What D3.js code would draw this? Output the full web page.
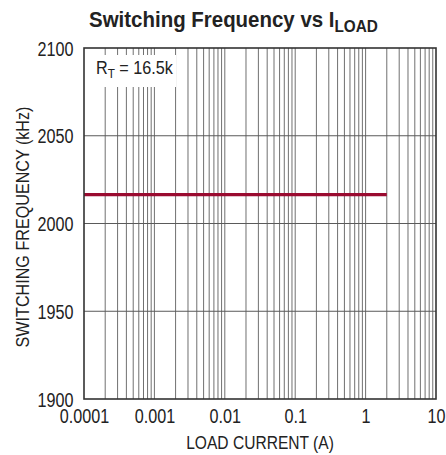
<!DOCTYPE html>
<html><head><meta charset="utf-8">
<script src="https://cdn.jsdelivr.net/npm/d3@7"></script>
<style>
body{margin:0;background:#fff;}
svg text{font-family:"Liberation Sans Narrow","Arial Narrow","Liberation Sans",sans-serif;fill:#222;}
</style></head><body>
<svg id="c" width="446" height="455"></svg>
<script>
const loadCurrent = [0.0001, 0.001, 0.01, 0.1, 1, 2];
const switchingFreq = [2016.5, 2016.5, 2016.5, 2016.5, 2016.5, 2016.5];
const xTicks = [0.0001, 0.001, 0.01, 0.1, 1, 10];
const xTickLabels = ["0.0001", "0.001", "0.01", "0.1", "1", "10"];
const yTicks = [1900, 1950, 2000, 2050, 2100];

const svg = d3.select("#c");
const L = 84, R = 436, T = 48, B = 399;
const SX = 0.83;
const x = d3.scaleLog().domain([0.0001, 10]).range([L, R]);
const y = d3.scaleLinear().domain([1900, 2100]).range([B, T]);

// minor + major vertical gridlines
const vgrid = [];
for (let e = -4; e < 1; e++) for (let m = 1; m <= 9; m++) {
  const v = m * Math.pow(10, e);
  if (v > 0.0001 && v < 10) vgrid.push(v);
}
const g = svg.append("g");
g.selectAll("line.v").data(vgrid).enter().append("line")
  .attr("x1", d => x(d)).attr("x2", d => x(d)).attr("y1", T).attr("y2", B)
  .attr("stroke", "#707070").attr("stroke-width", 1);
g.selectAll("line.h").data(yTicks.slice(1, -1)).enter().append("line")
  .attr("x1", L).attr("x2", R).attr("y1", d => y(d)).attr("y2", d => y(d))
  .attr("stroke", "#5a5a5a").attr("stroke-width", 1);

// label box
svg.append("rect").attr("x", L + 1).attr("y", 55).attr("width", 91).attr("height", 32).attr("fill", "#fff");
const lbl = svg.append("text").attr("transform", "translate(96,74) scale(0.9,1)").attr("font-size", 18);
lbl.append("tspan").text("R");
lbl.append("tspan").attr("font-size", 13).attr("dy", 4).text("T");
lbl.append("tspan").attr("dy", -4).text(" = 16.5k");

// data line
svg.append("path").datum(loadCurrent.map((d, i) => [d, switchingFreq[i]]))
  .attr("d", d3.line().x(d => x(d[0])).y(d => y(d[1])))
  .attr("fill", "none").attr("stroke", "#9a0b30").attr("stroke-width", 3.2);

// frame
svg.append("rect").attr("x", L).attr("y", T).attr("width", R - L).attr("height", B - T)
  .attr("fill", "none").attr("stroke", "#333").attr("stroke-width", 1.6);

// axes labels via d3 axes
const xa = svg.append("g").attr("transform", `translate(0,${B})`)
  .call(d3.axisBottom(x).tickValues(xTicks).tickFormat((d, i) => xTickLabels[i]).tickSize(0).tickPadding(10));
xa.select(".domain").remove();
xa.selectAll("text").attr("font-size", 19.5).attr("font-family", null).attr("fill", "#222")
  .attr("transform", `scale(${SX},1)`);
const ya = svg.append("g").attr("transform", `translate(${L},0)`)
  .call(d3.axisLeft(y).tickValues(yTicks).tickFormat(d3.format("d")).tickSize(0).tickPadding(11));
ya.select(".domain").remove();
ya.selectAll("text").attr("font-size", 19.5).attr("font-family", null).attr("fill", "#222")
  .attr("x", -10.5 / SX).attr("dy", "0.36em").attr("transform", `scale(${SX},1)`);

svg.append("text").attr("transform", `translate(${(L + R) / 2},449) scale(0.82,1)`).attr("text-anchor", "middle")
  .attr("font-size", 19).text("LOAD CURRENT (A)");
svg.append("text").attr("transform", "translate(29,227) rotate(-90) scale(0.85,1)").attr("text-anchor", "middle")
  .attr("font-size", 19).text("SWITCHING FREQUENCY (kHz)");

const t = svg.append("text").attr("transform", "translate(233.5,27) scale(0.93,1)").attr("text-anchor", "middle")
  .attr("font-size", 22).attr("font-weight", "bold");
t.append("tspan").text("Switching Frequency vs I");
t.append("tspan").attr("font-size", 16.5).attr("dy", 5).text("LOAD");
</script></body></html>
